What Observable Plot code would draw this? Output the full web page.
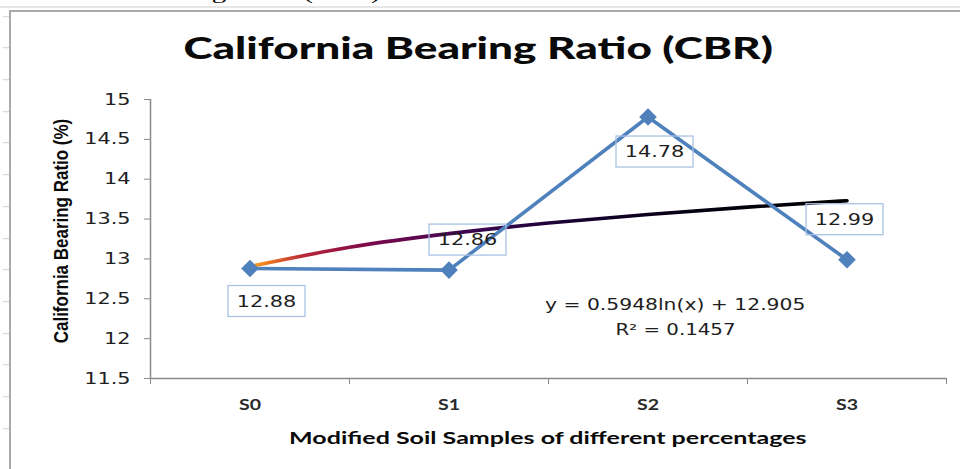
<!DOCTYPE html>
<html><head><meta charset="utf-8">
<script src="https://cdn.jsdelivr.net/npm/d3@7"></script>
<script src="https://cdn.jsdelivr.net/npm/@observablehq/plot@0.6"></script>
<style>
html,body{margin:0;padding:0;background:#fff;}
#wrap{position:relative;width:960px;height:469px;overflow:hidden;background:#fff;}
.ov{position:absolute;white-space:nowrap;line-height:1;transform-origin:50% 50%;}
#frame{position:absolute;left:9px;top:10px;width:1000px;height:500px;border-left:2px solid #a9a9a9;border-top:2px solid #a9a9a9;}
#topband{position:absolute;left:0;top:6px;width:960px;height:2px;background:#e6e6e6;}
#leftticks{position:absolute;left:3px;top:0;width:6px;height:469px;
 background-image:repeating-linear-gradient(to bottom,transparent 0,transparent 30.7px,#d0d0d0 30.7px,#d0d0d0 31.7px);
 background-position:0 -14.8px;}
svg{position:absolute;left:0;top:0;}
</style></head><body><div id="wrap"><div id="topband"></div><div id="leftticks"></div><div id="frame"></div></div>
<script>
// ---- data ----
const categories = ["S0", "S1", "S2", "S3"];
const cbrValues = [12.88, 12.86, 14.78, 12.99];
const yTicks = [11.5, 12, 12.5, 13, 13.5, 14, 14.5, 15];
const trendX = [1, 1.5, 2, 2.5, 3, 3.5, 4];
const trendY = [12.905, 13.146, 13.317, 13.450, 13.558, 13.650, 13.730];
const titleText = "California Bearing Ratio (CBR)";
const xTitle = "Modified  Soil Samples of different percentages";
const yTitle = "California Bearing Ratio (%)";
const equationLines = ["y = 0.5948ln(x) + 12.905", "R² = 0.1457"];
const cutCaption = "California Bearing Ratio (CBR)";

// ---- tables built from the arrays ----
const rows = categories.map((c, i) => ({i: i + 1, c, v: cbrValues[i]}));
const trendRows = trendX.map((x, k) => ({x, y: trendY[k]}));
const labelOffsets = [[17, 33], [19, -30], [7, 35], [-2, -40]];
const gradStops = [[0, "#f7a81e"], [0.03, "#ec7a22"], [0.09, "#b8263a"], [0.2, "#7c0a4c"], [0.36, "#3e0650"], [0.55, "#160230"], [0.75, "#050010"], [1, "#000000"]];

function trendGradient() {
  const defs = d3.create("svg:defs");
  const lg = defs.append("linearGradient").attr("id", "cbrTrend")
    .attr("x1", 0).attr("x2", 1).attr("y1", 0).attr("y2", 0);
  gradStops.forEach(([o, c]) => lg.append("stop").attr("offset", o).attr("stop-color", c));
  return defs.node();
}

function dataLabels(index, scales) {
  const g = d3.create("svg:g");
  rows.forEach((r, k) => {
    const cx = scales.x(r.i) + labelOffsets[k][0];
    const cy = scales.y(r.v) + labelOffsets[k][1];
    g.append("rect").attr("x", cx - 38.5).attr("y", cy - 15.5).attr("width", 77).attr("height", 31)
      .attr("fill", "none").attr("stroke", "#aac2e4").attr("stroke-width", 1.3);
    g.append("text").attr("x", cx).attr("y", cy).attr("dy", "0.36em").attr("text-anchor", "middle")
      .attr("font-family", "DejaVu Sans").attr("font-size", 16).attr("fill", "#1e1e1e").text(r.v.toFixed(2));
  });
  return g.node();
}

const chart = Plot.plot({
  width: 960, height: 469,
  marginLeft: 150, marginRight: 14, marginTop: 99, marginBottom: 91,
  style: {fontFamily: "DejaVu Sans", background: "transparent", color: "#1e1e1e"},
  x: {domain: [0.5, 4.5], axis: null},
  y: {domain: [11.5, 15], axis: null},
  marks: [
    trendGradient,
    Plot.ruleX([0.5], {stroke: "#8a8a8a", strokeWidth: 1.5}),
    Plot.ruleY([11.5], {stroke: "#8a8a8a", strokeWidth: 1.5}),
    Plot.axisY({ticks: yTicks, tickSize: 6, tickPadding: 14, tickFormat: d => String(d),
      fontSize: 16, stroke: "#8a8a8a", fill: "#1e1e1e", label: null}),
    Plot.axisX({ticks: [0.5, 1.5, 2.5, 3.5, 4.5], tickSize: 6, tickFormat: () => "",
      stroke: "#8a8a8a", label: null}),
    Plot.axisX({ticks: rows.map(r => r.i), tickSize: 0, tickPadding: 21, tickFormat: i => categories[i - 1],
      fontSize: 15, fontFamily: "Lato", fontWeight: "bold", fill: "#2a2a2a", label: null}),
    Plot.line(trendRows, {x: "x", y: "y", curve: "natural", stroke: "url(#cbrTrend)", strokeWidth: 3.6}),
    Plot.line(rows, {x: "i", y: "v", stroke: "#4f81bd", strokeWidth: 3.6}),
    Plot.dot(rows, {x: "i", y: "v", symbol: "diamond2", r: 7, fill: "#4f81bd", stroke: "#4f81bd"}),
    dataLabels
  ]
});
const wrap = document.getElementById("wrap");
wrap.appendChild(chart);

// emulate the horizontally stretched rendering of the reference
chart.querySelectorAll("text").forEach(t => {
  const L = t.getComputedTextLength();
  if (L > 0) { t.setAttribute("textLength", L * 1.3); t.setAttribute("lengthAdjust", "spacingAndGlyphs"); }
});

function overlay(text, {cx, cy, width, font, color = "#111", rotate = false, thick = 1}) {
  const s = document.createElement("span");
  s.className = "ov"; s.textContent = text; s.style.font = font; s.style.color = color;
  wrap.appendChild(s);
  const w = s.offsetWidth, h = s.offsetHeight;
  s.style.left = (cx - w / 2) + "px"; s.style.top = (cy - h / 2) + "px";
  const k = width / w;
  s.style.transform = rotate ? `rotate(-90deg) scale(${k}, ${thick})` : `scale(${k}, ${thick})`;
}
overlay(cutCaption, {cx: 195, cy: -7, width: 370, font: "18px 'Liberation Serif'", color: "#000"});
overlay(titleText, {cx: 478, cy: 47, width: 589, font: "900 31px Lato", color: "#0a0a0a"});
overlay(xTitle, {cx: 548, cy: 437, width: 518, font: "bold 17px Lato", color: "#0a0a0a"});
overlay(yTitle, {cx: 62, cy: 231, width: 225, font: "bold 16px 'Liberation Sans Narrow', 'Liberation Sans'", color: "#0a0a0a", rotate: true, thick: 1.3});
overlay(equationLines[0], {cx: 675, cy: 305, width: 260, font: "15px 'DejaVu Sans'", color: "#1e1e1e"});
overlay(equationLines[1], {cx: 675, cy: 330, width: 120, font: "15px 'DejaVu Sans'", color: "#1e1e1e"});
</script></body></html>
